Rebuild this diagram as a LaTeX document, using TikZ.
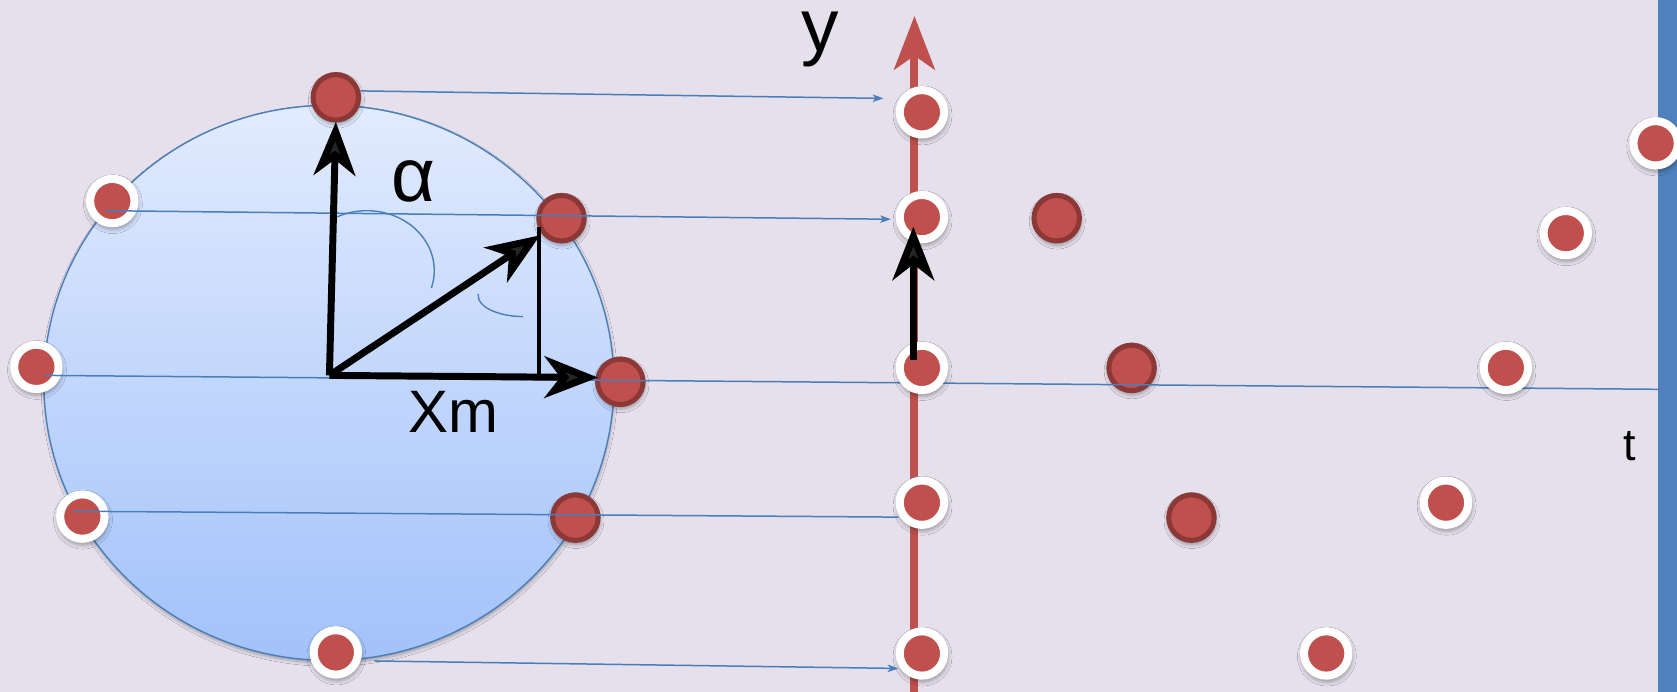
\documentclass[tikz,border=0pt]{standalone}
\usepackage{fontspec}
\setmainfont{Liberation Sans}
\usetikzlibrary{arrows.meta,shadows.blur}
\definecolor{bgc}{HTML}{E5E0EC}
\definecolor{dotred}{HTML}{C0504D}
\definecolor{dotdark}{HTML}{8C3836}
\definecolor{lineblue}{HTML}{4A7EBB}
\definecolor{barblue}{HTML}{4F81BD}
\definecolor{circtop}{HTML}{E2EBFE}
\definecolor{circbot}{HTML}{A2C2FA}
\begin{document}
\begin{tikzpicture}[x=1pt,y=-1pt,
  shad/.style={blur shadow={shadow xshift=0.5pt,shadow yshift=-2.5pt,shadow blur radius=3pt,shadow opacity=30,shadow scale=#1}},
  ddot/.style={circle,inner sep=0pt,minimum size=42.5pt,fill=dotred,draw=dotdark,line width=4.7pt,shad=1.08},
  wdot/.style={circle,inner sep=0pt,minimum size=41.5pt,fill=dotred,draw=white,line width=7.5pt,shad=1.16},
  projline/.style={draw=lineblue,line width=1.4pt},
  projarrow/.style={projline,-{Stealth[length=10pt,width=7pt,inset=2.5pt]}},
  vecarrow/.style={line width=6.5pt,-{Stealth[length=50pt,width=39pt,inset=15pt]}},
  anglearc/.style={draw=lineblue,line width=1.3pt},
  lbl/.style={inner sep=0pt,text=black}
]
\useasboundingbox (0,0) rectangle (1568,647);
\fill[bgc] (0,0) rectangle (1568,647);
% right time bar
\fill[barblue] (1550,0) rectangle (1568,647);

% rotating circle
\shade[top color=circtop,bottom color=circbot,draw=lineblue,line width=1.3pt,shad=1.0]
  (307.5,358) ellipse [x radius=266.5,y radius=259.5];

% points on the circle
\node[wdot] (cul) at (105,188) {};
\node[wdot] (cl)  at (34,343) {};
\node[wdot] (cll) at (77,483) {};
\node[wdot] (cb)  at (314,610) {};
\node[ddot] (ctop) at (314,91) {};
\node[ddot] (cur) at (525,204) {};
\node[ddot] (cr)  at (580,357) {};
\node[ddot] (clr) at (538,484) {};

% right side dark points
\node[ddot] (r1) at (988,204) {};
\node[ddot] (r2) at (1058,344) {};
\node[ddot] (r3) at (1114,484) {};

% projection lines
\coordinate (l1s) at (337,85);   \coordinate (l1e) at (826,92);
\coordinate (l2s) at (98,197);   \coordinate (l2e) at (833,205);
\coordinate (l3s) at (42,351);   \coordinate (l3e) at (1550,364);
\coordinate (l4s) at (69,478);   \coordinate (l4e) at (840,483.5);
\coordinate (l5s) at (350,618);  \coordinate (l5e) at (840,625);
\draw[projarrow] (l1s) -- (l1e);
\draw[projarrow] (l2s) -- (l2e);
\draw[projline]  (l3s) -- (l3e);
\draw[projline]  (l4s) -- (l4e);
\draw[projarrow] (l5s) -- (l5e);

% y axis
\coordinate (ybot) at (855,647);
\coordinate (ytop) at (855,15);
\draw[dotred,line width=7.5pt,-{Stealth[length=50pt,width=38pt,inset=13pt]}] (ybot) -- (ytop);

% points on the y axis
\node[wdot] (a1) at (862,105) {};
\node[wdot] (a2) at (862,203) {};
\node[wdot] (a3) at (862,344) {};
\node[wdot] (a4) at (862,470) {};
\node[wdot] (a5) at (862,611) {};

% right side white points
\node[wdot] (w1) at (1548,134) {};
\node[wdot] (w2) at (1464,218) {};
\node[wdot] (w3) at (1408,344) {};
\node[wdot] (w4) at (1352,470) {};
\node[wdot] (w5) at (1240,611) {};

% angle arcs
\draw[anglearc] (310.6,205) arc[start angle=-121,end angle=17,x radius=63,y radius=56];
\draw[anglearc] (447,275) .. controls (446,288) and (468,296) .. (489,296);

% vectors
\coordinate (O) at (308,351);
\coordinate (tipup) at (314,114);
\coordinate (tipdiag) at (505,220);
\coordinate (tipright) at (559,353);
\coordinate (proj) at (504,212);
\coordinate (projb) at (504,351);
\draw[line width=4.5pt] (proj) -- (projb);
\draw[vecarrow] (O) -- (tipup);
\draw[vecarrow] (O) -- (tipdiag);
\draw[vecarrow] (O) -- (tipright);

\coordinate (yv0) at (854,337);
\coordinate (yv1) at (854,212);
\draw[vecarrow] (yv0) -- (yv1);

% labels
\node[lbl,anchor=base,font=\fontsize{70}{70}\selectfont] (ylab) at (767,48.5) {y};
\node[lbl,anchor=base,font=\fontsize{71}{71}\selectfont] (alab) at (387,188) {α};
\node[lbl,anchor=base,font=\fontsize{56}{56}\selectfont] (xlab) at (424,404) {Xm};
\node[lbl,anchor=base,font=\fontsize{42}{42}\selectfont] (tlab) at (1524,431) {t};
\end{tikzpicture}
\end{document}
